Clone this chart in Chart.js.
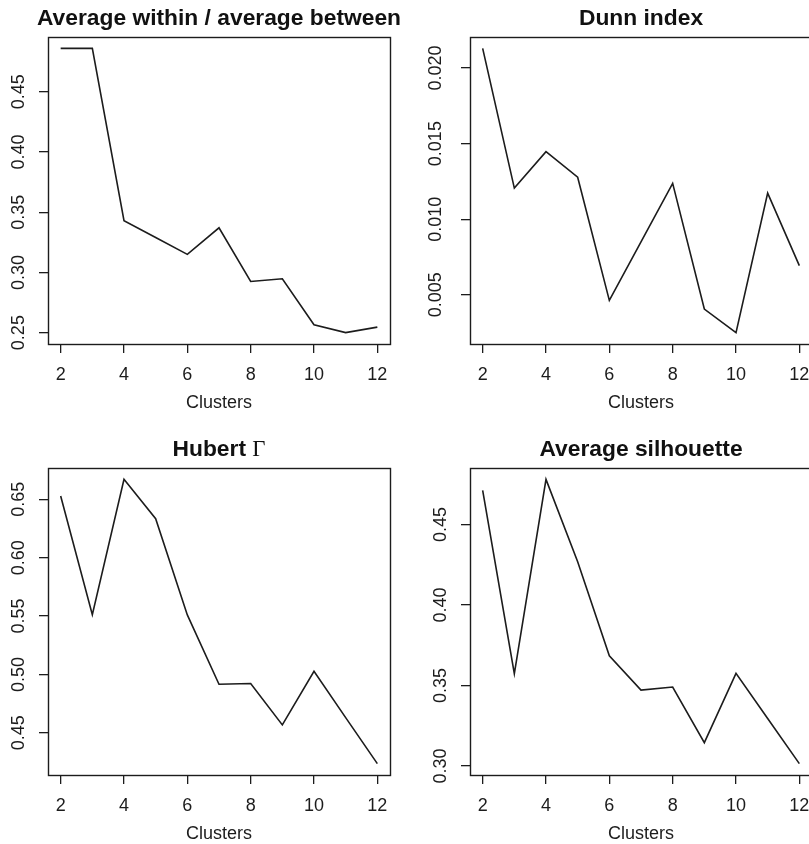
<!DOCTYPE html>
<html>
<head>
<meta charset="utf-8">
<script src="https://cdn.jsdelivr.net/npm/chart.js@4.4.1/dist/chart.umd.min.js"></script>
<style>
  html, body { margin: 0; padding: 0; background: #fff; }
  body { width: 809px; height: 844px; overflow: hidden; position: relative; }
  .panel { position: absolute; width: 405px; height: 422px; }
</style>
</head>
<body>
<div class="panel" style="left:0;top:0"><canvas id="c1" width="405" height="422"></canvas></div>
<div class="panel" style="left:422px;top:0"><canvas id="c2" width="405" height="422"></canvas></div>
<div class="panel" style="left:0;top:431px"><canvas id="c3" width="405" height="422"></canvas></div>
<div class="panel" style="left:422px;top:431px"><canvas id="c4" width="405" height="422"></canvas></div>
<script>
const clusters = [2, 3, 4, 5, 6, 7, 8, 9, 10, 11, 12];
const xTicks = [2, 4, 6, 8, 10, 12];

const withinBetween = [0.486, 0.486, 0.343, 0.329, 0.315, 0.337, 0.2925, 0.2947, 0.2565, 0.250, 0.2546];
const dunnIndex = [0.0213, 0.01206, 0.01447, 0.01278, 0.00463, 0.0085, 0.01237, 0.00406, 0.0025, 0.01173, 0.00693];
const hubertGamma = [0.6528, 0.5512, 0.6671, 0.6334, 0.551, 0.4916, 0.4922, 0.4568, 0.5027, 0.463, 0.4236];
const silhouette = [0.4713, 0.3574, 0.4781, 0.4269, 0.3685, 0.3472, 0.3491, 0.3145, 0.3576, 0.3295, 0.3015];

const ticksWithin = [0.25, 0.30, 0.35, 0.40, 0.45];
const ticksDunn = [0.005, 0.010, 0.015, 0.020];
const ticksHubert = [0.45, 0.50, 0.55, 0.60, 0.65];
const ticksSil = [0.30, 0.35, 0.40, 0.45];

const FONT = '"Liberation Sans", Arial, Helvetica, sans-serif';
const INK = '#1c1c1c';

// R style axis range: data range widened by 4% on each side
function rRange(values) {
    const lo = Math.min(...values), hi = Math.max(...values);
    const pad = (hi - lo) * 0.04;
    return { min: lo - pad, max: hi + pad };
}

function makeChart(id, titleParts, values, yTicks, decimals) {
    const xr = rRange(clusters);
    const yr = rRange(values);

    const boxPlugin = {
        id: 'box',
        beforeDatasetsDraw(chart) {
            const a = chart.chartArea;
            const ctx = chart.ctx;
            ctx.save();
            ctx.strokeStyle = INK;
            ctx.lineWidth = 1.4;
            ctx.strokeRect(Math.round(a.left) + 0.5, Math.round(a.top) + 0.5,
                Math.round(a.right - a.left), Math.round(a.bottom - a.top));
            ctx.restore();
        }
    };

    const titlePlugin = {
        id: 'rTitle',
        afterDraw(chart) {
            const a = chart.chartArea;
            const ctx = chart.ctx;
            ctx.save();
            ctx.fillStyle = '#111';
            ctx.textBaseline = 'alphabetic';
            let total = 0;
            const widths = titleParts.map(p => {
                ctx.font = p.font;
                const w = ctx.measureText(p.text).width;
                total += w;
                return w;
            });
            let x = (a.left + a.right) / 2 - total / 2;
            titleParts.forEach((p, i) => {
                ctx.font = p.font;
                ctx.fillText(p.text, x, 25);
                x += widths[i];
            });
            ctx.restore();
        }
    };

    return new Chart(document.getElementById(id), {
        type: 'line',
        data: {
            datasets: [{
                data: values.map((v, i) => ({ x: clusters[i], y: v })),
                borderColor: INK,
                borderWidth: 1.6,
                pointRadius: 0,
                tension: 0,
                fill: false
            }]
        },
        options: {
            responsive: false,
            animation: false,
            events: [],
            layout: { padding: { top: 37, right: 15, left: 0, bottom: 0 } },
            plugins: { legend: { display: false }, tooltip: { enabled: false } },
            scales: {
                x: {
                    type: 'linear',
                    min: xr.min,
                    max: xr.max,
                    afterBuildTicks: s => { s.ticks = xTicks.map(v => ({ value: v })); },
                    afterFit: s => { s.height = 78; },
                    grid: { drawOnChartArea: false, drawTicks: true, tickLength: 9, color: INK, lineWidth: 1.3 },
                    border: { display: false },
                    ticks: {
                        color: INK,
                        font: { family: FONT, size: 18 },
                        padding: 11,
                        maxRotation: 0,
                        callback: v => String(v)
                    },
                    title: {
                        display: true,
                        text: 'Clusters',
                        color: INK,
                        font: { family: FONT, size: 18 },
                        padding: { top: 0, bottom: 8 }
                    }
                },
                y: {
                    min: yr.min,
                    max: yr.max,
                    afterBuildTicks: s => { s.ticks = yTicks.map(v => ({ value: v })); },
                    afterFit: s => { s.width = 48; },
                    grid: { drawOnChartArea: false, drawTicks: true, tickLength: 9, color: INK, lineWidth: 1.3 },
                    border: { display: false },
                    ticks: {
                        color: INK,
                        font: { family: FONT, size: 18 },
                        padding: 2,
                        minRotation: 90,
                        maxRotation: 90,
                        crossAlign: 'center',
                        callback: v => v.toFixed(decimals)
                    }
                }
            }
        },
        plugins: [boxPlugin, titlePlugin]
    });
}

const boldTitle = 'bold 22.8px ' + FONT;

makeChart('c1', [{ text: 'Average within / average between', font: boldTitle }], withinBetween, ticksWithin, 2);
makeChart('c2', [{ text: 'Dunn index', font: boldTitle }], dunnIndex, ticksDunn, 3);
makeChart('c3', [{ text: 'Hubert ', font: boldTitle }, { text: 'Γ', font: '22.8px "Liberation Serif", "Times New Roman", serif' }], hubertGamma, ticksHubert, 2);
makeChart('c4', [{ text: 'Average silhouette', font: boldTitle }], silhouette, ticksSil, 2);
</script>
</body>
</html>
